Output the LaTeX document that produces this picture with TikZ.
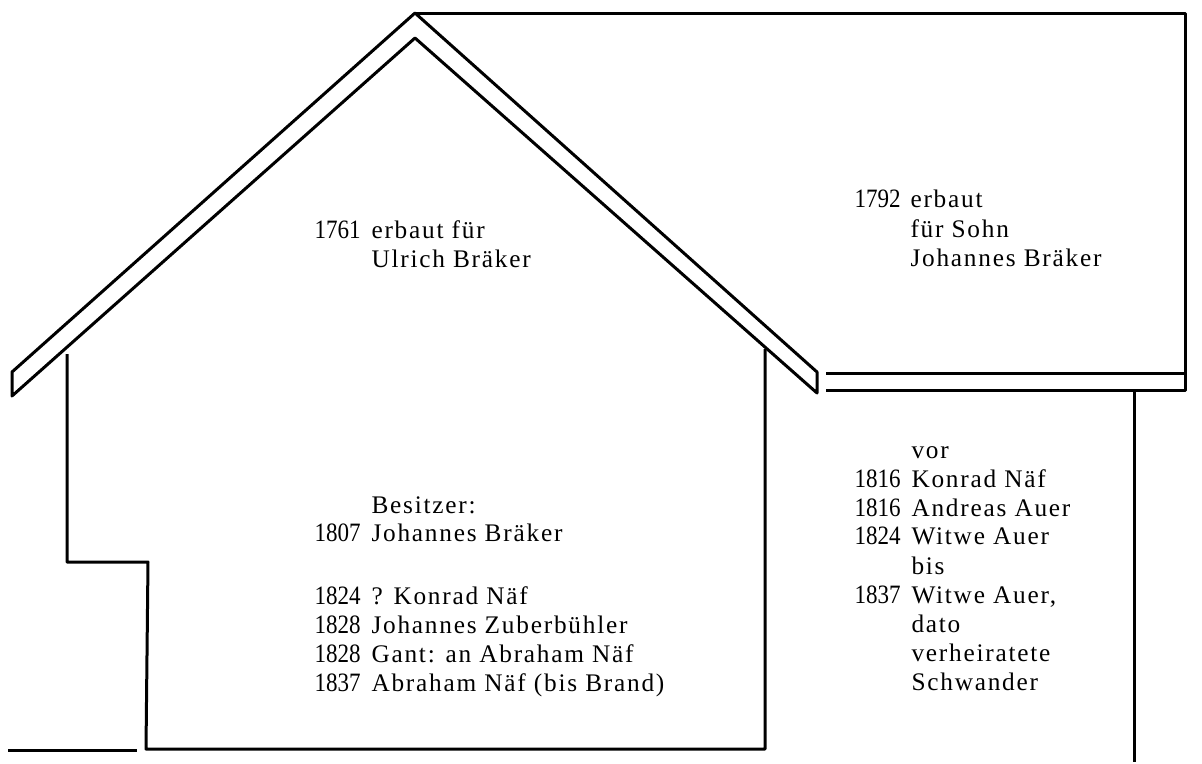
\documentclass[tikz,border=0pt]{standalone}
\usepackage{fontspec}
\setmainfont[LetterSpace=7]{Liberation Serif}
\newfontfamily\yearfont[FakeStretch=0.87]{Liberation Serif}
\begin{document}
\begin{tikzpicture}[x=1pt,y=-1pt,line width=3pt,line join=round,
    year/.style={anchor=base west,inner sep=0pt,font=\yearfont\fontsize{26.5}{28}\selectfont},
    entry/.style={anchor=base west,inner sep=0pt,font=\fontsize{25.3}{28}\selectfont}]
    \useasboundingbox (0,0) rectangle (1202,763);

    % main house
    \draw (12,372) -- (415,13) -- (817,372) -- (817,393) -- (415,38) -- (12,396) -- cycle;
    \draw (67,354) -- (67,562) -- (148,562) -- (146,749) -- (765,749) -- (765,349);
    \draw (8,750) -- (137,750);

    % annex
    \draw (415,13) -- (1185,13) -- (1185,390) -- (826,390);
    \draw (826,373) -- (1185,373);
    \draw (1134,390) -- (1134,762);

    % upper labels
    \node[year] (y1761) at (313,238) {1761};
    \node[entry] (t1761) at (370,238) {erbaut für};
    \node[entry] (ulrich) at (370,267) {Ulrich Bräker};
    \node[year] (y1792) at (853,207) {1792};
    \node[entry] (t1792) at (909,207) {erbaut};
    \node[entry] (sohn) at (909,237) {für Sohn};
    \node[entry] (johannes) at (909,266) {Johannes Bräker};

    % owners of the house
    \node[entry] (besitzer) at (370,513) {Besitzer:};
    \node[year] (y1807) at (313,541) {1807};
    \node[entry] (t1807) at (370,541) {Johannes Bräker};
    \node[year] (y1824) at (313,604) {1824};
    \node[entry] (t1824) at (370,604) {? Konrad Näf};
    \node[year] (y1828a) at (313,633) {1828};
    \node[entry] (t1828a) at (370,633) {Johannes Zuberbühler};
    \node[year] (y1828b) at (313,662) {1828};
    \node[entry] (t1828b) at (370,662) {Gant: an Abraham Näf};
    \node[year] (y1837) at (313,691) {1837};
    \node[entry] (t1837) at (370,691) {Abraham Näf (bis Brand)};

    % owners of the annex
    \node[entry] (vor) at (910,458) {vor};
    \node[year] (z1816a) at (853,487) {1816};
    \node[entry] (konrad) at (910,487) {Konrad Näf};
    \node[year] (z1816b) at (853,516) {1816};
    \node[entry] (andreas) at (910,516) {Andreas Auer};
    \node[year] (z1824) at (853,544) {1824};
    \node[entry] (witwe) at (910,544) {Witwe Auer};
    \node[entry] (bis) at (910,574) {bis};
    \node[year] (z1837) at (853,603) {1837};
    \node[entry] (auer) at (910,603) {Witwe Auer,};
    \node[entry] (dato) at (910,632) {dato};
    \node[entry] (verh) at (910,661) {verheiratete};
    \node[entry] (schwander) at (910,690) {Schwander};
\end{tikzpicture}
\end{document}
